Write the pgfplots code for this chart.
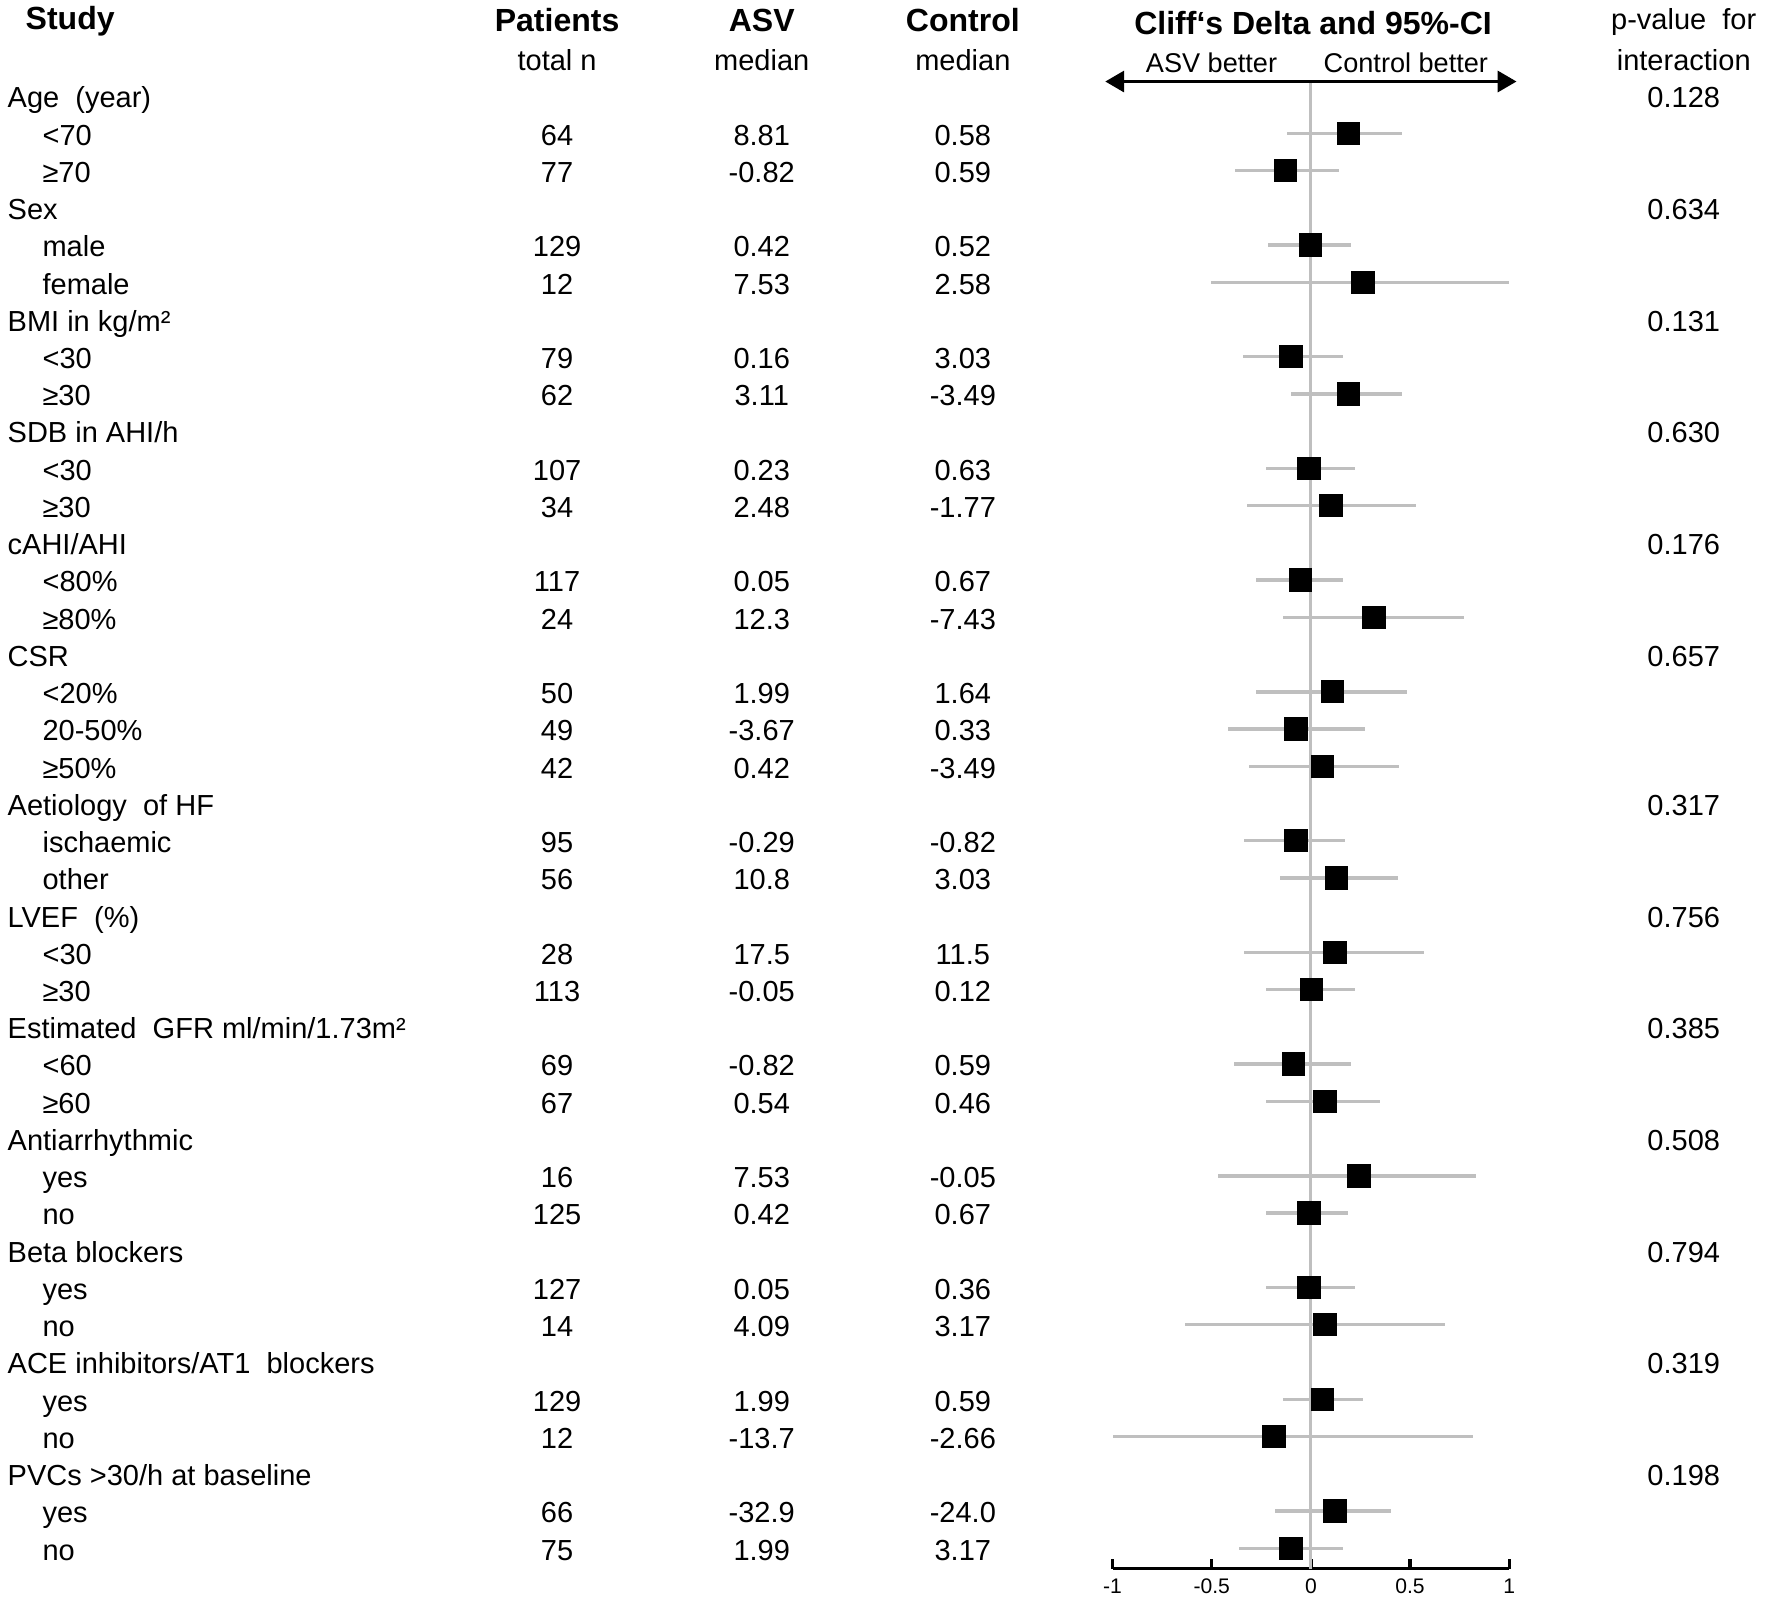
\documentclass[border=0pt]{standalone}
\usepackage{fontspec}
\setmainfont{Liberation Sans}
\usepackage{pgfplots}
\pgfplotsset{compat=1.18}
\usepackage{pgfplotstable}
\usetikzlibrary{arrows.meta}

\definecolor{cigray}{RGB}{191,191,191}

% Cliff's delta with 95% CI, one line per subgroup row
\pgfplotstableread{
row est lo hi
1 0.188 -0.122 0.461
2 -0.129 -0.381 0.140
4 -0.002 -0.215 0.204
5 0.262 -0.503 1.000
7 -0.100 -0.344 0.164
8 0.188 -0.098 0.461
10 -0.009 -0.228 0.222
11 0.102 -0.322 0.528
13 -0.051 -0.279 0.164
14 0.319 -0.140 0.774
16 0.109 -0.279 0.486
17 -0.075 -0.419 0.273
18 0.060 -0.313 0.446
20 -0.075 -0.337 0.173
21 0.129 -0.155 0.437
23 0.122 -0.337 0.568
24 0.002 -0.228 0.222
26 -0.089 -0.388 0.204
27 0.071 -0.224 0.348
29 0.242 -0.470 0.834
30 -0.009 -0.224 0.188
32 -0.009 -0.224 0.222
33 0.071 -0.636 0.676
35 0.060 -0.140 0.264
36 -0.186 -0.998 0.816
38 0.122 -0.182 0.406
39 -0.100 -0.364 0.164
}\cliff

\tikzset{
  txt/.style={font=\fontsize{7.7}{9}\selectfont, inner sep=0pt, anchor=mid},
  lab/.style={txt, anchor=mid west},
  hdr/.style={font=\fontsize{8.5}{10}\selectfont\bfseries, inner sep=0pt, anchor=mid},
}
% group header: row, label, p-value
\newcommand\grp[3]{%
  \node[lab] at (axis cs:-6.575,-#1-0.05) {#2};
  \node[txt] at (axis cs:1.880,-#1-0.05) {#3};}
% subgroup: row, label, n, ASV median, control median
\newcommand\sub[5]{%
  \node[lab] at (axis cs:-6.399,-#1-0.05) {#2};
  \node[txt] at (axis cs:-3.801,-#1-0.05) {#3};
  \node[txt] at (axis cs:-2.769,-#1-0.05) {#4};
  \node[txt] at (axis cs:-1.755,-#1-0.05) {#5};}

\begin{document}
\begin{tikzpicture}
\begin{axis}[
  x=52.65pt, y=9.885pt,
  xmin=-1, xmax=1, ymin=-39.55, ymax=0.39,
  axis x line=bottom, axis y line=none,
  x axis line style={-, line width=0.9pt},
  xtick={-1,-0.5,0,0.5,1},
  xticklabels={-1,-0.5,0,0.5,1},
  tick align=inside,
  major tick length=2.6pt,
  every tick/.style={black, line width=0.9pt},
  xticklabel style={font=\fontsize{5.6}{6}\selectfont, inner sep=0pt, yshift=-2.6pt},
  clip=false,
]
\path (axis cs:-6.61,2.58) rectangle (axis cs:2.325,-40.52);

\addplot[cigray, line width=0.8pt, forget plot] coordinates {(0,0.39) (0,-39.55)};

\addplot[only marks, mark=square*, mark size=2.9pt,
  mark options={fill=black, draw=black},
  error bars/.cd, x dir=both, x explicit, error mark=none,
  error bar style={cigray, line width=0.9pt}]
  table[x=est, y expr=-\thisrow{row},
    x error plus expr=\thisrow{hi}-\thisrow{est},
    x error minus expr=\thisrow{est}-\thisrow{lo}] {\cliff};

\draw[{Triangle[length=5pt,width=5.5pt]}-{Triangle[length=5pt,width=5.5pt]}, line width=1pt]
  (axis cs:-1.037,0.39) -- (axis cs:1.037,0.39);

% column headers
\node[hdr, anchor=mid west] at (axis cs:-6.484,2.06) {Study};
\node[hdr] at (axis cs:-3.801,2.0) {Patients};
\node[txt] at (axis cs:-3.801,0.94) {total n};
\node[hdr] at (axis cs:-2.769,2.0) {ASV};
\node[txt] at (axis cs:-2.769,0.94) {median};
\node[hdr] at (axis cs:-1.755,2.0) {Control};
\node[txt] at (axis cs:-1.755,0.94) {median};
\node[hdr] at (axis cs:0.011,1.91) {Cliff‘s Delta and 95\%-CI};
\node[txt, font=\fontsize{7.2}{9}\selectfont] at (axis cs:-0.501,0.91) {ASV better};
\node[txt, font=\fontsize{7.2}{9}\selectfont] at (axis cs:0.479,0.91) {Control better};
\node[txt] at (axis cs:1.880,2.06) {p-value\ \ for};
\node[txt] at (axis cs:1.880,0.94) {interaction};

\grp{0}{Age\ \ (year)}{0.128}
\sub{1}{<70}{64}{8.81}{0.58}
\sub{2}{≥70}{77}{-0.82}{0.59}
\grp{3}{Sex}{0.634}
\sub{4}{male}{129}{0.42}{0.52}
\sub{5}{female}{12}{7.53}{2.58}
\grp{6}{BMI in kg/m²}{0.131}
\sub{7}{<30}{79}{0.16}{3.03}
\sub{8}{≥30}{62}{3.11}{-3.49}
\grp{9}{SDB in AHI/h}{0.630}
\sub{10}{<30}{107}{0.23}{0.63}
\sub{11}{≥30}{34}{2.48}{-1.77}
\grp{12}{cAHI/AHI}{0.176}
\sub{13}{<80\%}{117}{0.05}{0.67}
\sub{14}{≥80\%}{24}{12.3}{-7.43}
\grp{15}{CSR}{0.657}
\sub{16}{<20\%}{50}{1.99}{1.64}
\sub{17}{20-50\%}{49}{-3.67}{0.33}
\sub{18}{≥50\%}{42}{0.42}{-3.49}
\grp{19}{Aetiology\ \ of HF}{0.317}
\sub{20}{ischaemic}{95}{-0.29}{-0.82}
\sub{21}{other}{56}{10.8}{3.03}
\grp{22}{LVEF\ \ (\%)}{0.756}
\sub{23}{<30}{28}{17.5}{11.5}
\sub{24}{≥30}{113}{-0.05}{0.12}
\grp{25}{Estimated\ \ GFR ml/min/1.73m²}{0.385}
\sub{26}{<60}{69}{-0.82}{0.59}
\sub{27}{≥60}{67}{0.54}{0.46}
\grp{28}{Antiarrhythmic}{0.508}
\sub{29}{yes}{16}{7.53}{-0.05}
\sub{30}{no}{125}{0.42}{0.67}
\grp{31}{Beta blockers}{0.794}
\sub{32}{yes}{127}{0.05}{0.36}
\sub{33}{no}{14}{4.09}{3.17}
\grp{34}{ACE inhibitors/AT1\ \ blockers}{0.319}
\sub{35}{yes}{129}{1.99}{0.59}
\sub{36}{no}{12}{-13.7}{-2.66}
\grp{37}{PVCs >30/h at baseline}{0.198}
\sub{38}{yes}{66}{-32.9}{-24.0}
\sub{39}{no}{75}{1.99}{3.17}
\end{axis}
\end{tikzpicture}
\end{document}
